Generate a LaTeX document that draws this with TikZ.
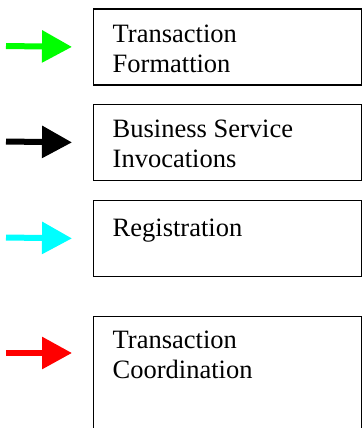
\documentclass[tikz,border=0pt]{standalone}
\usepackage{fontspec}
\setmainfont{Liberation Serif}
\usetikzlibrary{arrows.meta, positioning}
\definecolor{FeedGreen}{HTML}{00FF00}
\definecolor{FeedCyan}{HTML}{00FFFF}
\definecolor{FeedRed}{HTML}{FF0000}

\tikzset{
    stage/.style={draw, line width=1.8pt, minimum width=268pt, minimum height=76pt,
        anchor=north west, inner sep=0pt},
    stagetext/.style={anchor=north west, inner sep=0pt, align=left,
        font=\rmfamily\fontsize{26.5}{30}\selectfont},
    feed/.style={line width=6pt, -{Triangle[length=30pt, width=31pt]}}
}

\begin{document}
\begin{tikzpicture}[x=1pt, y=-1pt]
    \clip (0,0) rectangle (362,428);

    % Boxes (stacked on the right)
    \node[stage] (form) at (92.5, 8) {};
    \node[stage] (invoke) at (92.5, 103.5) {};
    \node[stage] (reg) at (92.5, 199.5) {};
    \node[stage, minimum height=160pt] (coord) at (92.5, 315.5) {};

    % Labels, top left inside each box
    \node[stagetext] (formtxt) at ([xshift=20pt, yshift=-16.5pt]form.north west) {Transaction\\Formattion};
    \node[stagetext] (invoketxt) at ([xshift=20pt, yshift=-16.5pt]invoke.north west) {Business Service\\Invocations};
    \node[stagetext] (regtxt) at ([xshift=20pt, yshift=-19pt]reg.north west) {Registration};
    \node[stagetext] (coordtxt) at ([xshift=20pt, yshift=-15.5pt]coord.north west) {Transaction\\Coordination};

    % Coloured arrows pointing at the boxes
    \coordinate (formsrc) at (6, 46);
    \coordinate (invokesrc) at (6, 141.5);
    \coordinate (regsrc) at (6, 237.5);
    \coordinate (coordsrc) at (6, 353);
    \draw[feed, FeedGreen] (formsrc) -- ([xshift=-20.5pt]form.west);
    \draw[feed, black] (invokesrc) -- ([xshift=-20.5pt]invoke.west);
    \draw[feed, FeedCyan] (regsrc) -- ([xshift=-20.5pt]reg.west);
    \draw[feed, FeedRed] (coordsrc) -- ([xshift=-20.5pt, yshift=-37.5pt]coord.north west);
\end{tikzpicture}
\end{document}
